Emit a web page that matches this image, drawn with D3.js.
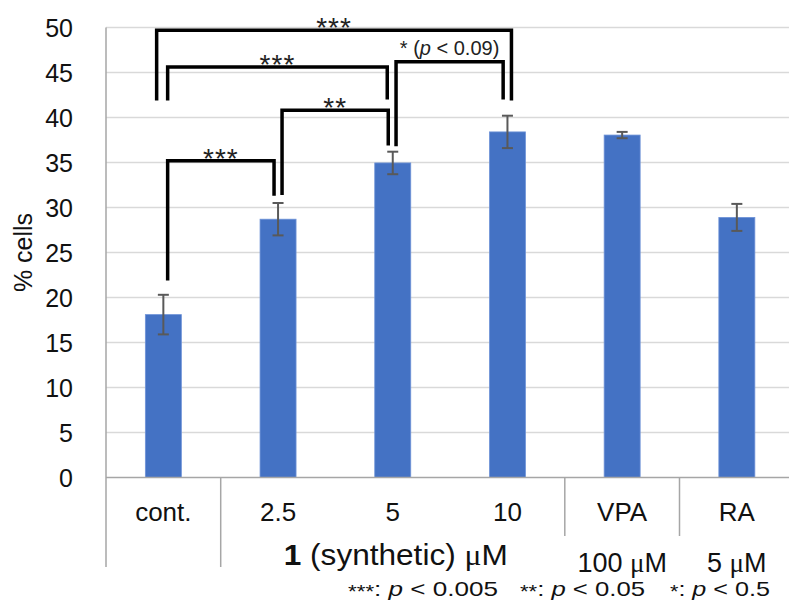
<!DOCTYPE html>
<html>
<head>
<meta charset="utf-8">
<script src="https://cdn.jsdelivr.net/npm/d3@7"></script>
<style>
  body { margin: 0; background: #fff; }
  svg { display: block; font-family: "Liberation Sans", Arial, sans-serif; }
</style>
</head>
<body>
<svg id="chart" width="789" height="606"></svg>
<script>
// values
var categories = ["cont.", "2.5", "5", "10", "VPA", "RA"];
var means = [18.1, 28.7, 34.95, 38.4, 38.05, 28.9];
var errors = [2.2, 1.8, 1.25, 1.8, 0.35, 1.5];
var yTicks = [0, 5, 10, 15, 20, 25, 30, 35, 40, 45, 50];

// significance brackets: pair of categories, height of the top bar, where each leg stops
var bracketPairs = [["cont.", "10"], ["cont.", "5"], ["2.5", "5"], ["cont.", "2.5"], ["5", "10"]];
var bracketTop = [49.7, 45.6, 40.8, 35.2, 46.2];
var bracketEnds = [[41.9, 41.9], [41.9, 42.0], [31.4, 36.9], [21.9, 31.3], [36.8, 42.0]];
var bracketLabels = ["***", "***", "**", "***", "* (p < 0.09)"];

var svg = d3.select("#chart");
var left = 106, band = 114.7;

var x = d3.scaleBand()
    .domain(categories)
    .range([left, left + band * categories.length])
    .paddingInner(0)
    .paddingOuter(0);
var y = d3.scaleLinear().domain([0, 50]).range([477.5, 27.5]);

var barW = 36;
var cx = function(c) { return x(c) + x.bandwidth() / 2; };

// gridlines
svg.append("g")
  .selectAll("line")
  .data(yTicks.filter(function(d) { return d > 0; }))
  .enter().append("line")
    .attr("x1", left).attr("x2", 789)
    .attr("y1", function(d) { return y(d); })
    .attr("y2", function(d) { return y(d); })
    .attr("stroke", "#d9d9d9")
    .attr("stroke-width", 1.5);

// y axis tick labels
svg.append("g")
  .selectAll("text")
  .data(yTicks)
  .enter().append("text")
    .attr("x", 73)
    .attr("y", function(d) { return y(d); })
    .attr("dy", "0.36em")
    .attr("text-anchor", "end")
    .attr("font-size", 25)
    .attr("fill", "#111")
    .text(function(d) { return d; });

svg.append("text")
  .attr("transform", "translate(32," + (y(25)) + ") rotate(-90)")
  .attr("text-anchor", "middle")
  .attr("font-size", 25)
  .attr("fill", "#111")
  .text("% cells");

// bars
svg.append("g")
  .selectAll("rect")
  .data(categories)
  .enter().append("rect")
    .attr("x", function(d) { return cx(d) - barW / 2; })
    .attr("width", barW)
    .attr("y", function(d, i) { return y(means[i]); })
    .attr("height", function(d, i) { return y(0) - y(means[i]); })
    .attr("fill", "#4472c4")
    .attr("stroke", "#6f93d8")
    .attr("stroke-width", 0.8);

// error bars
var eb = svg.append("g").attr("stroke", "#595959").attr("stroke-width", 2).attr("fill", "none");
categories.forEach(function(c, i) {
  var hi = y(means[i] + errors[i]), lo = y(means[i] - errors[i]), xc = cx(c);
  eb.append("line").attr("x1", xc).attr("x2", xc).attr("y1", hi).attr("y2", lo);
  eb.append("line").attr("x1", xc - 5.5).attr("x2", xc + 5.5).attr("y1", hi).attr("y2", hi);
  eb.append("line").attr("x1", xc - 5.5).attr("x2", xc + 5.5).attr("y1", lo).attr("y2", lo);
});

// axis lines and category separators
var ax = svg.append("g").attr("stroke", "#a6a6a6").attr("stroke-width", 1.5);
ax.append("line").attr("x1", left).attr("x2", left).attr("y1", y(50)).attr("y2", 567);
ax.append("line").attr("x1", left).attr("x2", 789).attr("y1", y(0)).attr("y2", y(0));
[[1, 567], [4, 536], [5, 536]].forEach(function(s) {
  var xs = x(categories[s[0]]);
  ax.append("line").attr("x1", xs).attr("x2", xs).attr("y1", y(0)).attr("y2", s[1]);
});

// category labels
svg.append("g")
  .selectAll("text")
  .data(categories)
  .enter().append("text")
    .attr("x", cx)
    .attr("y", 521)
    .attr("text-anchor", "middle")
    .attr("font-size", 26)
    .attr("fill", "#111")
    .text(function(d) { return d; });

var g1 = svg.append("text")
  .attr("x", cx("5") + 3).attr("y", 565)
  .attr("text-anchor", "middle")
  .attr("font-size", 29)
  .attr("fill", "#111")
  .attr("textLength", 224)
  .attr("lengthAdjust", "spacingAndGlyphs");
g1.append("tspan").attr("font-weight", "bold").text("1");
g1.append("tspan").text(" (synthetic) ");
g1.append("tspan").attr("font-family", "Liberation Serif, serif").text("\u03bc");
g1.append("tspan").text("M");

[["VPA", "100 "], ["RA", "5 "]].forEach(function(p) {
  var t = svg.append("text")
    .attr("x", cx(p[0])).attr("y", 572)
    .attr("text-anchor", "middle")
    .attr("font-size", 27)
    .attr("fill", "#111");
  t.append("tspan").text(p[1]);
  t.append("tspan").attr("font-family", "Liberation Serif, serif").text("\u03bc");
  t.append("tspan").text("M");
});

// significance brackets
var legShift = [[-6.7, 4], [4.3, -5.5], [4, -4.5], [4.3, -4], [3.3, -4.3]];
var br = svg.append("g");
bracketPairs.forEach(function(p, i) {
  var x1 = cx(p[0]) + legShift[i][0], x2 = cx(p[1]) + legShift[i][1];
  var yt = y(bracketTop[i]);
  br.append("path")
    .attr("d", "M" + x1 + "," + y(bracketEnds[i][0]) + "V" + yt + "H" + x2 + "V" + y(bracketEnds[i][1]))
    .attr("fill", "none")
    .attr("stroke", "#000")
    .attr("stroke-width", 3.5);
  var lab = br.append("text")
    .attr("x", (x1 + x2) / 2)
    .attr("text-anchor", "middle")
    .attr("fill", "#222");
  if (bracketLabels[i].indexOf("p") < 0) {
    lab.attr("y", yt + 7).attr("font-size", 28).attr("letter-spacing", 1)
      .text(bracketLabels[i]);
  } else {
    lab.attr("y", yt - 7).attr("font-size", 20);
    lab.append("tspan").text("* (");
    lab.append("tspan").attr("font-style", "italic").text("p");
    lab.append("tspan").text(" < 0.09)");
  }
});

// footnote
var notes = [["***", "0.005", 348, 150], ["**", "0.05", 520, 125], ["*", "0.5", 670, 100]];
notes.forEach(function(n) {
  var t = svg.append("text")
    .attr("x", n[2]).attr("y", 596)
    .attr("font-size", 21)
    .attr("fill", "#111")
    .attr("textLength", n[3])
    .attr("lengthAdjust", "spacingAndGlyphs");
  t.append("tspan").attr("font-size", 18).attr("dy", 2).text(n[0]);
  t.append("tspan").attr("dy", -2).text(": ");
  t.append("tspan").attr("font-style", "italic").text("p");
  t.append("tspan").text(" < " + n[1]);
});
</script>
</body>
</html>
